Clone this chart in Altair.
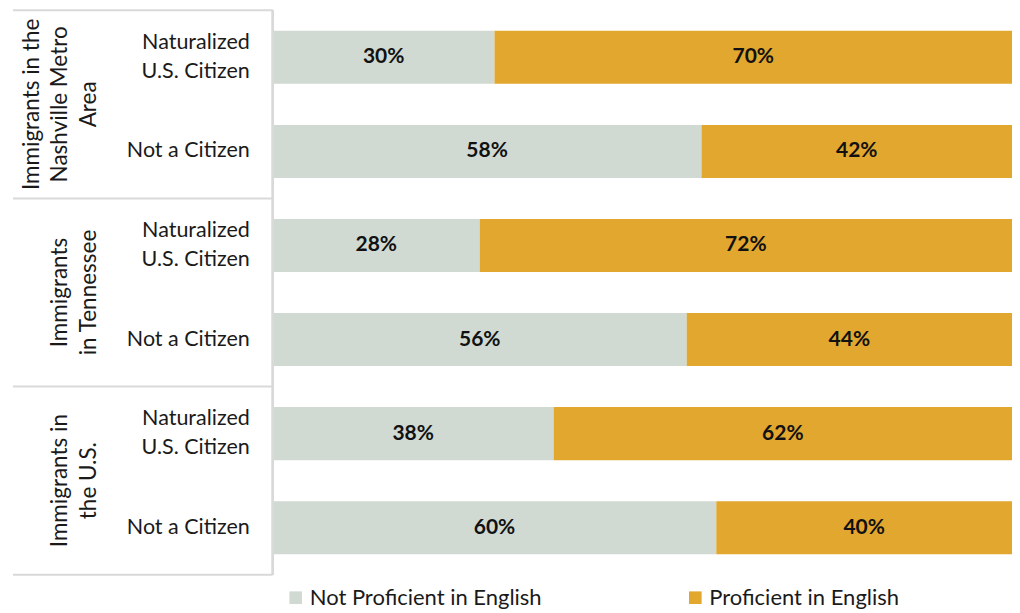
import altair as alt
import pandas as pd

groups = ["Immigrants in the\nNashville Metro\nArea", "Immigrants\nin Tennessee", "Immigrants in\nthe U.S."]
citizenship = ["Naturalized\nU.S. Citizen", "Not a Citizen"]
series = ["Not Proficient in English", "Proficient in English"]
not_proficient = [30, 58, 28, 56, 38, 60]
proficient = [70, 42, 72, 44, 62, 40]
group_centers = [1, 3, 5]
group_bounds = [0, 2, 4, 6]

GREY = "#D0DAD2"
GOLD = "#E2A72E"
FONT = "Lato"
TXT = "#1a1a1a"

rows = []
for i in range(len(not_proficient)):
    for s_idx, (s, vals) in enumerate(zip(series, [not_proficient, proficient])):
        rows.append({
            "row": i,
            "citizenship": citizenship[i % 2],
            "nlines": citizenship[i % 2].count("\n") + 1,
            "series": s,
            "order": s_idx,
            "value": vals[i],
        })
df = pd.DataFrame(rows)
gdf = pd.DataFrame({"group": groups, "pos": group_centers,
                    "nlines": [g.count("\n") + 1 for g in groups]})
bdf = pd.DataFrame({"pos": group_bounds})

W, H = 740, 565
LH_C = 29
LH_G = 28.5

y_band = alt.Y("row:O", axis=None,
               scale=alt.Scale(paddingInner=0.436, paddingOuter=0.218))
x_scale = alt.Scale(domain=[0, 100], nice=False, zero=True)
y_q = alt.Scale(domain=[0, 6], reverse=True, nice=False, zero=False)

base = alt.Chart(df)

bars = base.mark_bar().encode(
    x=alt.X("value:Q", stack="zero", scale=x_scale, axis=None),
    y=y_band,
    color=alt.Color("series:N", scale=alt.Scale(domain=series, range=[GREY, GOLD]),
                    legend=alt.Legend(title=None, orient="none", direction="horizontal",
                                      legendX=12, legendY=577, padding=0,
                                      symbolType="square", symbolSize=160,
                                      symbolStrokeWidth=0,
                                      labelFont=FONT, labelFontSize=22, labelColor=TXT,
                                      labelOffset=3, columnPadding=142, labelLimit=400)),
    order=alt.Order("order:Q"),
)

values = base.transform_window(
    cum="sum(value)", groupby=["row"], sort=[alt.SortField("order")], frame=[None, 0]
).transform_calculate(
    mid="datum.cum - datum.value / 2", lbl="datum.value + '%'"
).mark_text(font=FONT, fontSize=21, fontWeight="bold", color="#111111").encode(
    x=alt.X("mid:Q", scale=x_scale, axis=None),
    y=y_band,
    text="lbl:N",
)

def cit_layer(n):
    return base.transform_filter(f"datum.order == 0 && datum.nlines == {n}").mark_text(
        align="right", baseline="middle", lineBreak="\n", font=FONT, fontSize=21.5,
        lineHeight=LH_C, color=TXT, dy=-(n - 1) * LH_C / 2
    ).encode(
        x=alt.value(-23),
        y=y_band,
        text="citizenship:N",
    )

def grp_layer(n):
    return alt.Chart(gdf).transform_filter(f"datum.nlines == {n}").mark_text(
        angle=270, align="center", baseline="bottom", lineBreak="\n", font=FONT,
        fontSize=22.5, lineHeight=LH_G, color=TXT, dy=-(n - 1) * LH_G
    ).encode(
        x=alt.value(-172),
        y=alt.Y("pos:Q", scale=y_q, axis=None),
        text="group:N",
    )

hrules = alt.Chart(bdf).mark_rule(color="#D9D9D9", strokeWidth=2).encode(
    x=alt.value(-260), x2=alt.value(0),
    y=alt.Y("pos:Q", scale=y_q, axis=None),
)

vrule = alt.Chart(bdf).mark_rule(color="#D9D9D9", strokeWidth=2).encode(
    x=alt.value(0), y=alt.value(0), y2=alt.value(H),
)

data_part = alt.layer(bars, values, cit_layer(1), cit_layer(2))
frame_part = alt.layer(hrules, vrule, grp_layer(2), grp_layer(3))

chart = alt.layer(data_part, frame_part).resolve_scale(
    y="independent"
).properties(
    width=W, height=H,
    padding={"left": 4, "top": 1, "right": 0, "bottom": 0},
).configure_view(stroke=None)

chart.save("out.html", embed_options={"renderer": "svg", "actions": False})
